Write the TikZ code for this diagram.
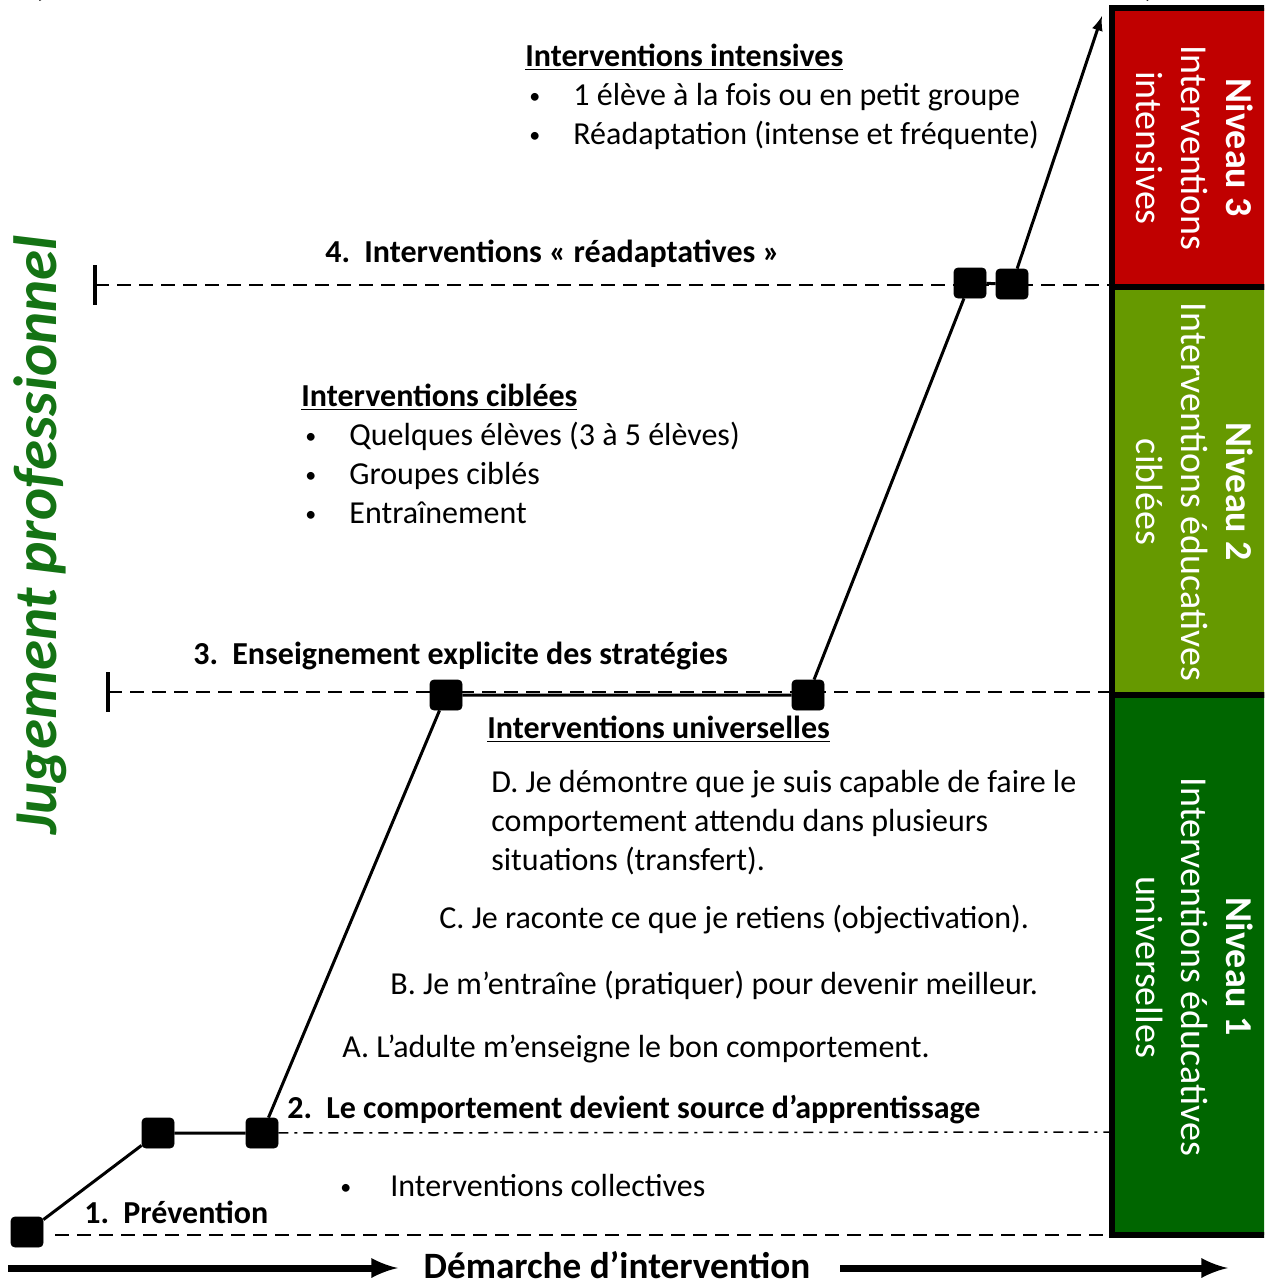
\documentclass[tikz,border=0pt]{standalone}
\usepackage{fontspec}
\setmainfont{Carlito}
\usetikzlibrary{positioning}
\definecolor{rouge}{RGB}{192,0,0}
\definecolor{vertclair}{RGB}{102,153,0}
\definecolor{vertfonce}{RGB}{0,102,0}
\definecolor{vertjug}{RGB}{20,115,20}
\tikzset{
  mybox/.style={
    draw, fill, rectangle, rounded corners=2pt, minimum height=15pt, minimum width=16pt, inner sep=0pt
  },
  mytext/.style={
    anchor=base west, inner sep=0pt, font=\fontsize{16}{19.5}\selectfont
  },
  mytitle/.style={
    mytext, font=\fontsize{16}{19.5}\selectfont\bfseries
  },
  mylevel/.style={
    rotate=-90, text=white, align=center, font=\fontsize{19}{22.5}\selectfont
  },
  myband/.style={
    draw, line width=3pt
  },
  mydash/.style={
    dash pattern=on 7pt off 4pt, line width=0.75pt
  }
}
\newcommand{\puce}[1]{\makebox[23pt][l]{\hspace{1pt}{\fontsize{11}{11}\selectfont\raisebox{1pt}{\textbullet}}}#1}
\newcommand{\num}[1]{\makebox[19.5pt][l]{#1}}

\begin{document}
\begin{tikzpicture}[x=0.5pt, y=-0.5pt]
   \useasboundingbox (0,0) rectangle (1264,1280);
   \clip (0,0) rectangle (1264,1280);

   \node[anchor=base west, inner sep=0pt, font=\fontsize{20}{24}\selectfont\bfseries] (po) at (32,-5) {(};
   \node[anchor=base west, inner sep=0pt, font=\fontsize{20}{24}\selectfont\bfseries] (pf) at (1143,-5) {)};

   \draw[myband, fill=rouge] (1112,8) rectangle (1275,287);
   \draw[myband, fill=vertclair] (1112,287) rectangle (1275,695);
   \draw[myband, fill=vertfonce] (1112,695) rectangle (1275,1235);
   \node[mylevel] (n3) at (1195,148) {\textbf{Niveau 3}\\Interventions\\intensives};
   \node[mylevel] (n2) at (1195,492) {\textbf{Niveau 2}\\Interventions éducatives\\ciblées};
   \node[mylevel] (n1) at (1195,967) {\textbf{Niveau 1}\\Interventions éducatives\\universelles};

   \node[rotate=90, text=vertjug, font=\fontsize{30.5}{34}\selectfont\bfseries\itshape] (jp) at (40,535) {Jugement professionnel};

   \coordinate (d4) at (95,285);
   \coordinate (f4) at (1112,285);
   \coordinate (d3) at (108,692);
   \coordinate (f3) at (1112,692);
   \coordinate (f2) at (1112,1132);
   \coordinate (d1) at (55,1235);
   \coordinate (f1) at (1112,1235);
   \draw[line width=2pt] (95,265) -- (95,305);
   \draw[line width=2pt] (108,672) -- (108,712);
   \draw[mydash] (d4) -- (f4);
   \draw[mydash] (d3) -- (f3);
   \draw[mydash] (d1) -- (f1);

   \node[mybox] (aa) at (27,1232) {};
   \node[mybox] (bb) at (158,1133) {};
   \node[mybox] (cc) at (262,1133) {};
   \node[mybox] (dd) at (446,695) {};
   \node[mybox] (ee) at (808,695) {};
   \node[mybox] (ff) at (970,283) {};
   \node[mybox] (gg) at (1012,284) {};
   \coordinate (top) at (1102,16);
   \draw[line width=0.75pt, dash pattern=on 5pt off 3pt on 1.5pt off 3pt] (cc) -- (f2);
   \draw[line width=1.5pt] (aa) -- (bb) -- (cc) -- (dd) -- (ee) -- (ff) -- (gg);
   \draw[-latex, line width=1.5pt] (gg) -- (top);

   \node[mytitle] (ti) at (525,66) {\underline{Interventions intensives}};
   \node[mytext] (ti1) at (527,105) {\puce{1 élève à la fois ou en petit groupe}};
   \node[mytext] (ti2) at (527,144) {\puce{Réadaptation (intense et fréquente)}};
   \node[mytitle] (e4) at (325,262) {\num{4.}Interventions «~réadaptatives~»};

   \node[mytitle] (tc) at (301,406) {\underline{Interventions ciblées}};
   \node[mytext] (tc1) at (303,445) {\puce{Quelques élèves (3 à 5 élèves)}};
   \node[mytext] (tc2) at (303,484) {\puce{Groupes ciblés}};
   \node[mytext] (tc3) at (303,523) {\puce{Entraînement}};
   \node[mytitle] (e3) at (193,664) {\num{3.}Enseignement explicite des stratégies};

   \node[mytitle] (tu) at (487,738) {\underline{Interventions universelles}};
   \node[mytext] (ud1) at (491,792) {D. Je démontre que je suis capable de faire le};
   \node[mytext] (ud2) at (491,831) {comportement attendu dans plusieurs};
   \node[mytext] (ud3) at (491,870) {situations (transfert).};
   \node[mytext] (uc) at (439,928) {C. Je raconte ce que je retiens (objectivation).};
   \node[mytext] (ub) at (390,994) {B. Je m’entraîne (pratiquer) pour devenir meilleur.};
   \node[mytext] (ua) at (342,1057) {A. L’adulte m’enseigne le bon comportement.};
   \node[mytitle] (e2) at (287,1118) {\num{2.}Le comportement devient source d’apprentissage};
   \node[mytext] (tv) at (338,1196) {\makebox[26pt][l]{\hspace{1pt}{\fontsize{11}{11}\selectfont\raisebox{1pt}{\textbullet}}}Interventions collectives};
   \node[mytitle] (e1) at (84,1223) {\num{1.}Prévention};

   \node[anchor=base, inner sep=0pt, font=\fontsize{18.6}{22}\selectfont\bfseries] (dm) at (617,1278) {Démarche d’intervention};
   \coordinate (g0) at (8,1268);
   \coordinate (g1) at (398,1268);
   \coordinate (h0) at (840,1268);
   \coordinate (h1) at (1228,1268);
   \draw[-latex, line width=3.5pt] (g0) -- (g1);
   \draw[-latex, line width=3.5pt] (h0) -- (h1);
\end{tikzpicture}
\end{document}
